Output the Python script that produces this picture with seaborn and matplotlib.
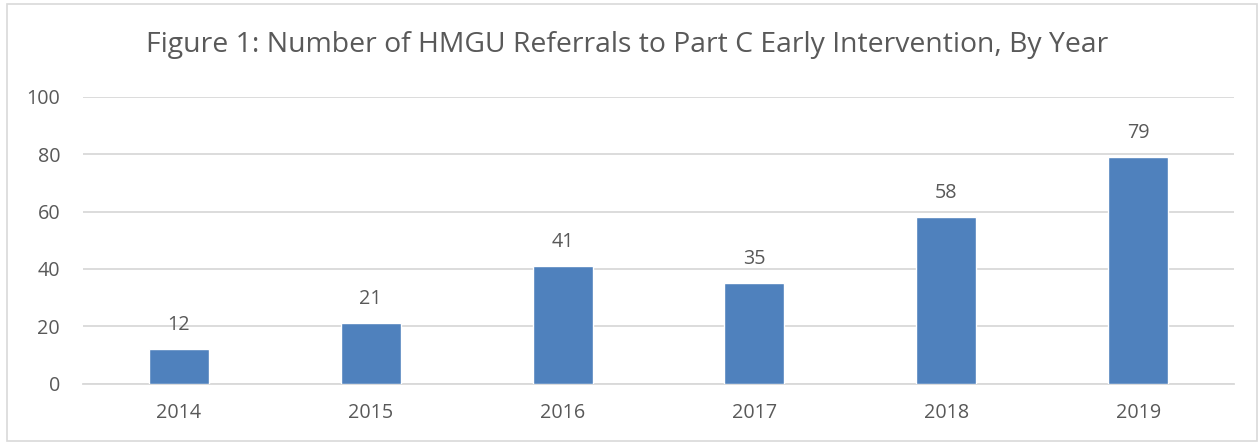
import matplotlib
matplotlib.use("Agg")
import matplotlib.pyplot as plt
import seaborn as sns
import pandas as pd
from matplotlib.patches import Rectangle

years = ["2014", "2015", "2016", "2017", "2018", "2019"]
referrals = [12, 21, 41, 35, 58, 79]
yticks = [0, 20, 40, 60, 80, 100]
title = "Figure 1: Number of HMGU Referrals to Part C Early Intervention, By Year"

sns.set_theme(style="white")
plt.rcParams['font.family'] = ['Open Sans', 'DejaVu Sans']

df = pd.DataFrame({"year": years, "referrals": referrals})
txt = "#595959"
grid = "#d9d9d9"
fs = 14.2

fig = plt.figure(figsize=(12.6, 4.44), dpi=100)
ax = fig.add_axes([83/1260, 1 - 383.5/444, (1234-83)/1260, (383.5-97)/444])
sns.barplot(data=df, x="year", y="referrals", color="#4f81bd", saturation=1,
            width=0.313, ax=ax, zorder=3)
ax.set_ylim(0, 100)
ax.set_xlim(-0.5, len(years) - 0.5)
ax.set_yticks(yticks)
ax.yaxis.grid(True, color=grid, linewidth=1.3, zorder=0)
ax.set_axisbelow(True)
for s in ["top", "right", "left"]:
    ax.spines[s].set_visible(False)
ax.spines["bottom"].set_color(grid)
ax.spines["bottom"].set_linewidth(1.3)
ax.set_xlabel("")
ax.set_ylabel("")
ax.tick_params(axis="y", length=0, pad=16.5, labelsize=fs, labelcolor=txt)
ax.tick_params(axis="x", length=0, pad=14, labelsize=fs, labelcolor=txt)
for c in ax.containers:
    ax.bar_label(c, padding=10, fontsize=fs, color=txt)

fig.text(0.498, 1 - 45/444, title, ha="center", va="center", fontsize=20.4, color=txt)
fig.patches.append(Rectangle((7/1260, 3/444), 1250/1260, 437/444, transform=fig.transFigure,
                             fill=False, edgecolor=grid, linewidth=1.2))
fig.savefig("out.png", dpi=100)
